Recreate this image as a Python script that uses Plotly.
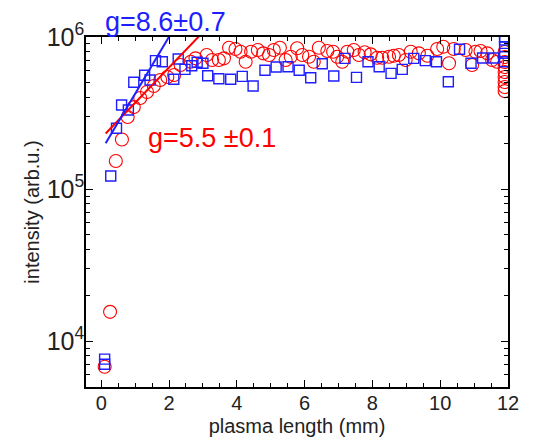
import plotly.graph_objs as go

# red circles (plasma length in mm, intensity in arb.u.)
red_x = [0.10, 0.26, 0.43, 0.61, 0.78, 0.96, 1.15, 1.35, 1.55, 1.74, 1.95, 2.15, 2.34, 2.64,
         2.78, 3.11, 3.27, 3.47, 3.62, 3.77, 3.96, 4.11, 4.26, 4.42, 4.62, 4.78, 4.95, 5.09,
         5.27, 5.44, 5.59, 5.78, 5.93, 6.13, 6.27, 6.42, 6.67, 6.84, 6.96, 7.11, 7.26, 7.45,
         7.60, 7.77, 7.95, 8.14, 8.29, 8.49, 8.63, 8.78, 8.98, 9.13, 9.37, 9.62, 9.91, 10.09,
         10.26, 10.40, 10.75, 10.94, 11.04, 11.19, 11.39, 11.53, 11.68,
         11.9, 11.9, 11.9, 11.9, 11.9, 11.9, 11.9, 11.9, 11.9]
red_y = [6.8e3, 1.56e4, 1.53e5, 2.12e5, 2.98e5, 3.46e5, 3.97e5, 4.35e5, 4.76e5, 5.21e5, 5.46e5,
         5.62e5, 6.54e5, 6.88e5, 7.24e5, 7.62e5, 7.06e5, 7.06e5, 7.24e5, 8.50e5, 8.34e5, 8.0e5,
         6.88e5, 8.0e5, 8.21e5, 7.81e5, 7.62e5, 8.21e5, 8.50e5, 7.06e5, 7.42e5, 8.43e5, 7.62e5,
         7.42e5, 6.88e5, 8.50e5, 8.09e5, 8.0e5, 7.42e5, 6.88e5, 8.0e5, 8.21e5, 7.62e5, 7.93e5,
         7.69e5, 7.31e5, 7.31e5, 7.42e5, 7.53e5, 7.62e5, 7.06e5, 8.0e5, 7.81e5, 7.53e5, 8.34e5,
         8.63e5, 6.72e5, 8.34e5, 8.21e5, 6.55e5, 8.0e5, 8.09e5, 7.81e5, 7.06e5, 6.88e5,
         7.97e5, 7.39e5, 6.85e5, 6.35e5, 5.89e5, 5.46e5, 5.06e5, 4.69e5, 4.41e5]

# blue squares
blue_x = [0.10, 0.10, 0.28, 0.45, 0.60, 0.80, 0.96, 1.28, 1.44, 1.60, 1.80, 2.14, 2.27, 2.47,
          2.67, 2.83, 3.00, 3.14, 3.47, 3.82, 4.16, 4.48, 4.83, 5.16, 5.51, 5.84, 6.18, 6.52,
          6.86, 7.19, 7.53, 7.87, 8.20, 8.55, 8.88, 9.22, 9.56, 9.89, 10.24, 10.57, 10.91,
          11.25, 11.58, 11.9, 11.9, 11.9, 11.9, 11.9]
blue_y = [7.62e3, 7.06e3, 1.22e5, 2.51e5, 3.57e5, 3.31e5, 5.04e5, 5.6e5, 5.21e5, 6.99e5, 6.88e5,
          5.27e5, 7.16e5, 6.13e5, 6.47e5, 6.82e5, 6.72e5, 5.56e5, 5.32e5, 5.27e5, 5.51e5, 4.76e5,
          6.04e5, 6.35e5, 6.38e5, 6.04e5, 5.40e5, 6.67e5, 5.54e5, 7.24e5, 5.43e5, 6.88e5, 6.38e5,
          5.77e5, 6.13e5, 7.24e5, 6.99e5, 6.88e5, 5.08e5, 8.30e5, 6.72e5, 7.27e5, 7.27e5,
          1.0e6, 9.56e5, 8.63e5, 7.81e5, 6.88e5]

# exponential fits (straight on log axis, two end points each)
fit_blue_x = [0.13, 2.03]
fit_blue_y = [2.0e5, 1.03e6]
fit_red_x = [0.13, 2.90]
fit_red_y = [2.32e5, 1.02e6]

FONT = "Arial, Liberation Sans, sans-serif"
BLUE = "rgb(30,30,255)"
RED = "rgb(255,0,0)"

fig = go.Figure()

# データ点
fig.add_trace(go.Scatter(x=red_x, y=red_y, mode="markers",
                         marker=dict(symbol="circle-open", size=13, color=RED, line=dict(width=1.1))))
fig.add_trace(go.Scatter(x=blue_x, y=blue_y, mode="markers",
                         marker=dict(symbol="square-open", size=10, color=BLUE, line=dict(width=1.4))))

# フィット直線
fig.add_trace(go.Scatter(x=fit_red_x, y=fit_red_y, mode="lines", line=dict(color=RED, width=2)))
fig.add_trace(go.Scatter(x=fit_blue_x, y=fit_blue_y, mode="lines", line=dict(color=BLUE, width=2)))

axis_common = dict(
    showline=True, linecolor="black", linewidth=1.5, mirror="allticks",
    ticks="inside", ticklen=7, tickwidth=1.2, tickcolor="black",
    showgrid=False, zeroline=False, automargin=False,
    tickfont=dict(family=FONT, size=20, color="#222"),
)

fig.update_layout(
    width=539, height=443,
    margin=dict(l=86, r=31, t=37, b=56),
    paper_bgcolor="white", plot_bgcolor="white",
    showlegend=False,
    font=dict(family=FONT, color="black"),
    xaxis=dict(range=[-0.45, 12], tick0=0, dtick=2, ticklabelstandoff=-3,
               minor=dict(dtick=0.5, ticks="inside", ticklen=4, tickcolor="black"),
               title=dict(text="plasma length (mm)", font=dict(family=FONT, size=20, color="#222"), standoff=6),
               **axis_common),
    yaxis=dict(type="log", range=[3.699, 6], dtick=1, exponentformat="power", ticklabelstandoff=-4,
               minor=dict(dtick="D1", ticks="inside", ticklen=4, tickcolor="black"),
               title=dict(text="intensity (arb.u.)", font=dict(family=FONT, size=20, color="#222"), standoff=2),
               **axis_common),
)

# アノテーション
fig.add_annotation(text="g=8.6±0.7", x=0.04, y=1.042, xref="paper", yref="paper",
                   xanchor="left", yanchor="middle", showarrow=False,
                   font=dict(family=FONT, size=27, color=BLUE))
fig.add_annotation(text="g=5.5 ±0.1", x=0.142, y=0.712, xref="paper", yref="paper",
                   xanchor="left", yanchor="middle", showarrow=False,
                   font=dict(family=FONT, size=27, color=RED))

# ページ余白をなくす
fig.write_html("out.html", config={"displayModeBar": False},
               post_script="document.body.style.margin='0';")
